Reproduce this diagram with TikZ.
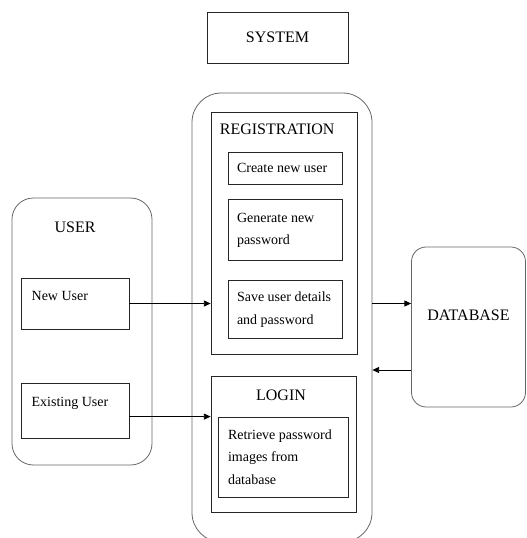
\documentclass[tikz,border=0pt]{standalone}
\usepackage{fontspec}
\setmainfont{Liberation Serif}
\usepackage{tikz}
\usetikzlibrary{positioning,arrows.meta,calc}
\newcommand{\bodyfont}{\fontsize{10.5}{17}\selectfont}
\newcommand{\headfont}{\fontsize{12}{14}\selectfont}
\tikzset{
  frame/.style = {draw=black!60, line width=0.6pt, rounded corners=16pt},
  rect/.style  = {draw=black!85, line width=0.6pt},
  box/.style   = {rect, align=flush left, font=\bodyfont, inner xsep=6.75pt, text width=72pt},
  head/.style  = {inner sep=0pt, font=\headfont},
  flow/.style  = {-{Triangle[length=5pt,width=4.5pt]}, line width=0.6pt},
}
\begin{document}
\begin{tikzpicture}[x=0.75pt, y=-0.75pt]
  \clip (0,0) rectangle (526,538);
  \node[rect, font=\headfont, minimum width=105.75pt, minimum height=38.25pt] (system) at (277.5,37.5) {SYSTEM};
  \node[frame, rounded corners=22pt, minimum width=135pt, minimum height=336.75pt] (sys) at (282,317.5) {};

  % registration part
  \node[rect, minimum width=109.5pt, minimum height=181.5pt] (reg) at (284,233) {};
  \node[head, anchor=west] (regtitle) at ($(reg.north west)+(9,18)$) {REGISTRATION};
  \node[box, minimum height=24pt] (create) at (285,168) {Create new user};
  \node[box, minimum height=45.75pt, below=11.25pt of create] (gen) {Generate new\\password};
  \node[box, minimum height=43.5pt, below=14.25pt of gen] (save) {Save user details\\and password};

  % login part
  \node[rect, minimum width=108.75pt, minimum height=102pt] (login) at (283.5,444) {};
  \node[head] (logtitle) at (281,395) {LOGIN};
  \node[box, text width=82.5pt, inner xsep=7.5pt, minimum height=60pt] (retrieve) at (283,457) {Retrieve password\\images from\\database};

  % user side
  \node[frame, minimum width=105pt, minimum height=200.25pt] (user) at (82,331.5) {};
  \node[head] (usertitle) at (75,227) {USER};
  \node[box, text width=65pt, inner xsep=8pt, inner ysep=0pt, text height=16.5pt, text depth=21.75pt] (newuser) at (75,303.5) {New User};
  \node[box, text width=65pt, inner xsep=8pt, inner ysep=0pt, text height=17.5pt, text depth=23.75pt] (existing) at (75,410.5) {Existing User};

  % database
  \node[frame, rounded corners=11pt, font=\headfont, minimum width=85.5pt, minimum height=120pt, text depth=18pt] (db) at (468.5,327) {DATABASE};
  \coordinate (back) at (0,370);

  \draw[flow] (newuser.east) -- (reg.west |- newuser.east);
  \draw[flow] (existing.east |- retrieve.north) -- (login.west |- retrieve.north);
  \draw[flow] (sys.east |- newuser.east) -- (db.west |- newuser.east);
  \draw[flow] (db.west |- back) -- (sys.east |- back);
\end{tikzpicture}
\end{document}
